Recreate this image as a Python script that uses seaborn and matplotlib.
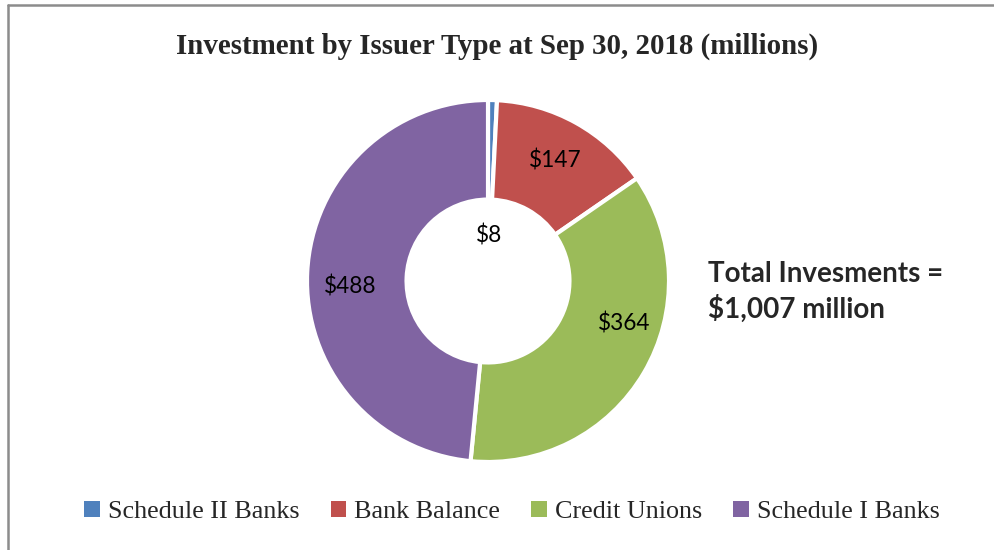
import numpy as np
import matplotlib
matplotlib.use("Agg")
import matplotlib.pyplot as plt
from matplotlib.patches import Patch
from matplotlib.lines import Line2D
import seaborn as sns

categories = ["Schedule II Banks", "Bank Balance", "Credit Unions", "Schedule I Banks"]
values = [8, 147, 364, 488]
labels = ["$8", "$147", "$364", "$488"]
colors = ["#4F81BD", "#C0504D", "#9BBB59", "#8064A2"]
title = "Investment by Issuer Type at Sep 30, 2018 (millions)"
total_text = "Total Invesments =\n$1,007 million"

sns.set_theme(style="white")
plt.rcParams["font.family"] = ["Lato", "DejaVu Sans"]

W, H = 994, 550
fig = plt.figure(figsize=(W / 100, H / 100), dpi=100)
fig.patch.set_facecolor("white")

cx, cy, r = 488, 281, 181
ax = fig.add_axes([(cx - r) / W, (H - cy - r) / H, 2 * r / W, 2 * r / H])
wedges, _ = ax.pie(values, colors=colors, startangle=90, counterclock=False,
                   radius=1.0, wedgeprops=dict(width=0.55, edgecolor="white", linewidth=3))
ax.set_xlim(-1, 1)
ax.set_ylim(-1, 1)
ax.set_aspect("equal")
ax.axis("off")

# data labels
total = sum(values)
cum = np.cumsum([0] + values)
label_r = [0.25, 0.76, 0.79, 0.76]
label_shift = [0, 0, -13, -5]  # degrees adjustment (Excel best-fit)
for i, (lab, v) in enumerate(zip(labels, values)):
    mid = (cum[i] + cum[i + 1]) / 2 / total * 360 + label_shift[i]
    ang = np.deg2rad(90 - mid)
    ax.text(label_r[i] * np.cos(ang), label_r[i] * np.sin(ang), lab,
            ha="center", va="center", fontsize=16.3, color="black",
            family=["Lato", "DejaVu Sans"])

fig.text(0.5, 1 - 46 / H, title, ha="center", va="center",
         fontsize=20.8, fontweight="bold", family=["Liberation Serif", "DejaVu Serif"])

fig.text(708 / W, 1 - 292 / H, total_text, ha="left", va="center",
         fontsize=20, fontweight="bold", linespacing=1.3,
         family=["Lato", "DejaVu Sans"])

handles = [Patch(facecolor=c, edgecolor="none") for c in colors]
leg = fig.legend(handles, categories, loc="center", bbox_to_anchor=(512 / W, 1 - 512 / H),
                 ncol=4, frameon=False, handlelength=0.6, handleheight=0.6,
                 handletextpad=0.3, columnspacing=1.2,
                 prop={"family": ["Liberation Serif", "DejaVu Serif"], "size": 18.8})

# chart-area border (top and left visible)
fig.add_artist(Line2D([8 / W, 8 / W], [0, 1 - 4.5 / H], transform=fig.transFigure,
                      color="#8c8c8c", linewidth=1.8))
fig.add_artist(Line2D([8 / W, 1], [1 - 4.5 / H, 1 - 4.5 / H], transform=fig.transFigure,
                      color="#8c8c8c", linewidth=1.8))

fig.savefig("out.png", dpi=100, facecolor="white")
